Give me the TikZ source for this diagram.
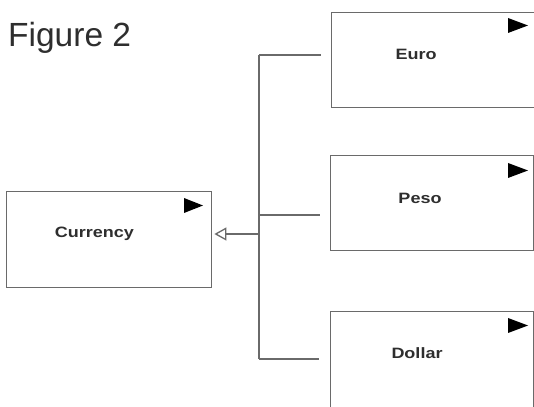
\documentclass[tikz,border=0pt]{standalone}
\usepackage{fontspec}
\setmainfont{Liberation Sans}
\usetikzlibrary{arrows.meta}
\definecolor{linegray}{HTML}{6A6A6A}
\definecolor{txtgray}{HTML}{2E2E2E}
\tikzset{
  box/.style={draw=linegray, line width=1.4pt, minimum width=203pt, minimum height=95pt, anchor=north west, inner sep=0pt},
  lbl/.style={inner sep=0pt, text=txtgray, font=\fontsize{15}{15}\selectfont\bfseries},
  conn/.style={draw=linegray, line width=1.4pt},
  flag/.style={fill=black, draw=none}
}
\begin{document}
\begin{tikzpicture}[x=1pt,y=1pt]
\clip (0,0) rectangle (534,406);
\fill[white] (0,0) rectangle (534,406);
% title
\node[inner sep=0pt, anchor=base west, text=txtgray, font=\fontsize{33.5}{34}\selectfont] (title) at (8,359) {Figure 2};
% boxes
\node[box] (euro) at (331,394) {};
\node[box] (peso) at (330,251) {};
\node[box, minimum height=100pt] (dollar) at (330,95) {};
\node[box, minimum width=205pt, minimum height=96pt] (cur) at (6,215) {};
% labels
\node[lbl] (eurot) at (416,352) {\scalebox{1.2}[1]{Euro}};
\node[lbl] (pesot) at (420,208) {\scalebox{1.2}[1]{Peso}};
\node[lbl] (dollart) at (417,53) {\scalebox{1.2}[1]{Dollar}};
\node[lbl] (curt) at (94.5,172) {\scalebox{1.2}[1]{Currency}};
% flags
\fill[flag] (508,388) -- (528,380.5) -- (508,373) -- cycle;
\fill[flag] (508,243) -- (528,235.5) -- (508,228) -- cycle;
\fill[flag] (508,88) -- (528,80.5) -- (508,73) -- cycle;
\fill[flag] (184,208) -- (203,200.5) -- (184,193) -- cycle;
% connectors
\coordinate (tE) at (259,351);
\coordinate (tP) at (259,191);
\coordinate (tC) at (259,172);
\coordinate (tD) at (259,47);
\draw[conn] (tE) -- (tD);
\draw[conn, shorten >=10pt] (tE) -- (tE -| euro.west);
\draw[conn, shorten >=10pt] (tP) -- (tP -| peso.west);
\draw[conn, shorten >=11pt] (tD) -- (tD -| dollar.west);
\draw[conn, -{Triangle[open, length=12pt, width=13pt, line width=1.3pt]}, shorten >=2pt] (tC) -- (tC -| cur.east);
\end{tikzpicture}
\end{document}
